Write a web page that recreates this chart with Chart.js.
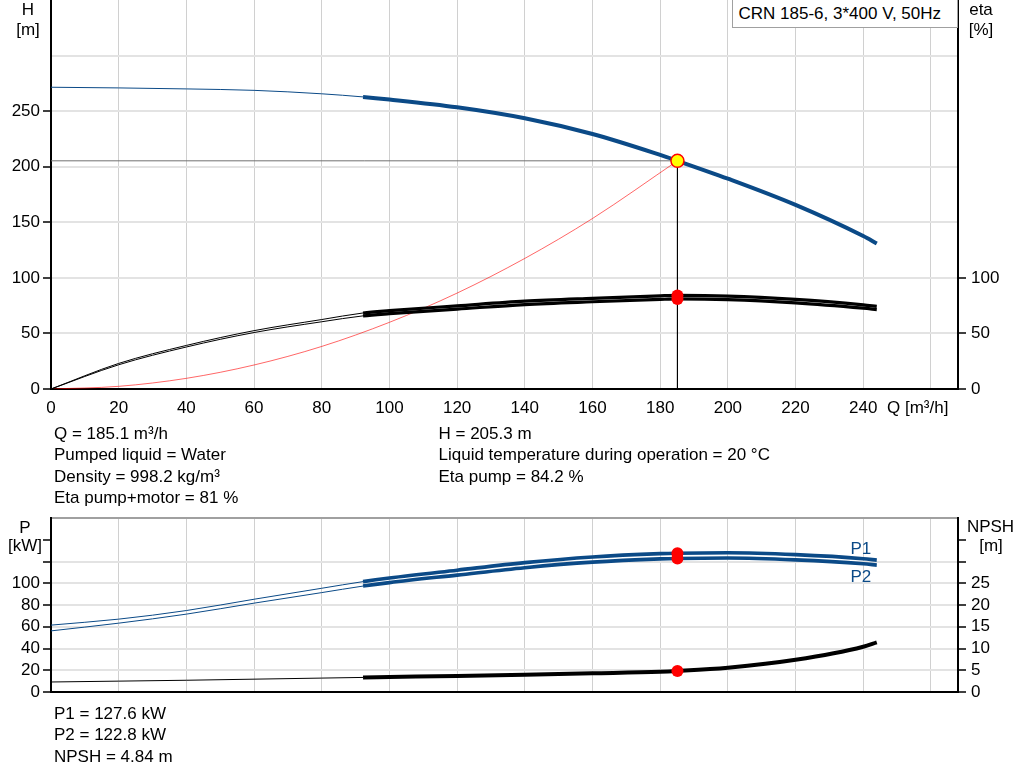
<!DOCTYPE html>
<html>
<head>
<meta charset="utf-8">
<script src="https://cdn.jsdelivr.net/npm/chart.js@4.4.0/dist/chart.umd.min.js"></script>
<style>
html,body{margin:0;padding:0;background:#fff;}
body{width:1024px;height:781px;position:relative;overflow:hidden;font-family:'Liberation Sans',Arial,Helvetica,sans-serif;color:#000;}
canvas{position:absolute;left:0;display:block;}
#c1{top:0;}
#c2{top:505px;}
.t{position:absolute;font-size:17px;line-height:20px;white-space:nowrap;}
.c{text-align:center;}
#legendBox{position:absolute;left:732px;top:-1px;width:226px;height:29px;border:1px solid #a0a0a0;box-sizing:border-box;background:#fff;}
</style>
</head>
<body>
<canvas id="c1" width="1024" height="425"></canvas>
<canvas id="c2" width="1024" height="200"></canvas>

<div id="legendBox"></div>
<div class="t" style="left:738.5px;top:3.5px;">CRN 185-6, 3*400 V, 50Hz</div>

<div class="t c" style="left:8px;width:40px;top:-0.5px;">H</div>
<div class="t c" style="left:8px;width:40px;top:19.5px;">[m]</div>
<div class="t c" style="left:961px;width:40px;top:-0.5px;">eta</div>
<div class="t c" style="left:961px;width:40px;top:19.5px;">[%]</div>
<div class="t" style="left:887px;top:397.7px;">Q [m³/h]</div>

<div class="t" style="left:54px;top:423.5px;">Q = 185.1 m³/h</div>
<div class="t" style="left:54px;top:445px;">Pumped liquid = Water</div>
<div class="t" style="left:54px;top:466.5px;">Density = 998.2 kg/m³</div>
<div class="t" style="left:54px;top:488px;">Eta pump+motor = 81 %</div>
<div class="t" style="left:438.5px;top:423.5px;">H = 205.3 m</div>
<div class="t" style="left:438.5px;top:445px;">Liquid temperature during operation = 20 °C</div>
<div class="t" style="left:438.5px;top:466.5px;">Eta pump = 84.2 %</div>

<div class="t c" style="left:5px;width:40px;top:517.7px;">P</div>
<div class="t c" style="left:0px;width:50px;top:535.5px;">[kW]</div>
<div class="t c" style="left:960px;width:61px;top:517.2px;">NPSH</div>
<div class="t c" style="left:971px;width:40px;top:535.5px;">[m]</div>
<div class="t" style="left:850.5px;top:538.7px;color:#0b4a87;">P1</div>
<div class="t" style="left:850.5px;top:566.7px;color:#0b4a87;">P2</div>

<div class="t" style="left:54px;top:704px;">P1 = 127.6 kW</div>
<div class="t" style="left:54px;top:725.3px;">P2 = 122.8 kW</div>
<div class="t" style="left:54px;top:746.6px;">NPSH = 4.84 m</div>

<script>
// ---------- data ----------
const FLOW      = [0, 20, 40, 60, 80, 92.2, 100, 120, 140, 160, 180, 185.1, 200, 220, 240, 244];
const HEAD      = [271.5, 270.9, 270.0, 268.7, 265.6, 262.8, 260.5, 253.5, 243.6, 229.4, 210.6, 205.3, 189.2, 165.6, 137.6, 131.0];
const ETA_PUMP  = [0, 23.0, 39.2, 52.5, 62.5, 68.4, 70.5, 74.8, 79.0, 81.6, 83.8, 84.2, 83.6, 80.6, 75.7, 74.4];
const ETA_TOTAL = [0, 21.8, 37.8, 50.8, 60.5, 65.8, 67.8, 71.9, 76.0, 78.5, 80.6, 81.0, 80.4, 77.5, 72.7, 71.5];
const P1_KW     = [61.5, 67.0, 74.9, 85.3, 95.4, 101.5, 104.8, 112.0, 119.0, 124.2, 127.2, 127.6, 128.0, 126.3, 122.6, 121.3];
const P2_KW     = [56.2, 63.3, 71.6, 81.7, 91.4, 97.4, 100.6, 107.5, 114.3, 119.4, 122.4, 122.8, 123.2, 121.5, 117.9, 116.7];
const NPSH_M    = [2.3, 2.5, 2.7, 2.95, 3.2, 3.35, 3.45, 3.7, 3.98, 4.3, 4.65, 4.84, 5.6, 7.4, 10.4, 11.4];
const SYS_FLOW  = [0, 20, 40, 60, 80, 100, 120, 140, 160, 185.1];
const SYS_HEAD  = [0, 2.4, 9.6, 21.6, 38.3, 60, 86.3, 117.5, 153.4, 205.3];

const DUTY_Q = 185.1, DUTY_H = 205.3, DUTY_ETA_PUMP = 84.2, DUTY_ETA_TOTAL = 81;
const DUTY_P1 = 127.6, DUTY_P2 = 122.8, DUTY_NPSH = 4.84;

const Q_TICKS = [0, 20, 40, 60, 80, 100, 120, 140, 160, 180, 200, 220, 240, 260];
const Q_LABEL_MAX = 240, Q_MAX = 268;
const H_MAX = 350, H_STEP = 50, H_LABEL_MAX = 250, ETA_LABEL_MAX = 100;
const P_MAX = 160, P_STEP = 20, P_LABEL_MAX = 100, P_GRID_MAX = 120;
const NPSH_MAX = 40, NPSH_STEP = 5, NPSH_LABEL_MAX = 25;
const THICK_FROM = 92.2;

// ---------- style ----------
const BLUE = '#0b4a87';
const RED = '#ff0000';
const GRID_V = '#d0d0d0';
const GRID_H = '#e3e3e3';
const NONE = 'rgba(0,0,0,0)';
const FONT = {family: "'Liberation Sans', Arial, sans-serif", size: 17};

const pts = (xs, ys) => xs.map((x, i) => ({x: x, y: ys[i]}));
const thick = w => ({ borderWidth: c => (c.p0.parsed.x >= THICK_FROM - 1e-6 ? w : 1) });
const curve = (data, axis, color, w, order) => ({
  data: data, yAxisID: axis, borderColor: color, borderWidth: w, segment: thick(w),
  pointRadius: 0, cubicInterpolationMode: 'monotone', fill: false, order: order
});
const dots = (data, axis) => ({
  data: data, yAxisID: axis, showLine: false, pointRadius: 6,
  pointBackgroundColor: RED, pointBorderColor: RED, pointBorderWidth: 0, order: 0
});
const xScale = (height, showLabels) => ({
  type: 'linear', min: 0, max: Q_MAX,
  afterBuildTicks: s => { s.ticks = Q_TICKS.map(v => ({value: v})); },
  ticks: { display: showLabels, autoSkip: false, maxRotation: 0, padding: 9.5, font: FONT, color: '#000',
           callback: v => (v <= Q_LABEL_MAX ? String(v) : '') },
  grid: { color: c => (c.tick && c.tick.value > 0 ? GRID_V : NONE), lineWidth: 1, drawTicks: false },
  border: { color: '#000', width: 2 },
  afterFit: s => { s.height = height; s.paddingLeft = 0; s.paddingRight = 0; }
});
const yScale = (pos, max, step, labelMax, gridMax, tickMax, onArea, topColor) => ({
  type: 'linear', position: pos, min: 0, max: max,
  ticks: { stepSize: step, autoSkip: false, padding: pos === 'left' ? 3 : 5, font: FONT, color: '#000',
           callback: v => (v <= labelMax ? String(v) : '') },
  grid: {
    drawOnChartArea: onArea,
    color: c => {
      const v = c.tick ? c.tick.value : 0;
      if (v === max && topColor) return topColor;
      return (v > 0 && v <= gridMax) ? GRID_H : NONE;
    },
    lineWidth: 2,
    tickColor: c => ((c.tick && c.tick.value <= tickMax) ? '#000' : NONE),
    tickLength: 8, tickWidth: 1.5
  },
  border: { color: '#000', width: 2 },
  afterFit: s => { s.width = pos === 'left' ? 51 : 66; s.paddingTop = 0; s.paddingBottom = 0; }
});
const base = {
  responsive: false, animation: false, events: [],
  plugins: { legend: { display: false }, tooltip: { enabled: false } }
};

// ---------- top chart: H and eta ----------
new Chart(document.getElementById('c1'), {
  type: 'line',
  data: { datasets: [
    { data: [{x: DUTY_Q, y: DUTY_H}], yAxisID: 'y', showLine: false, pointRadius: 6.5,
      pointBackgroundColor: '#ffff00', pointBorderColor: RED, pointBorderWidth: 1.5, order: 0 },
    dots([{x: DUTY_Q, y: DUTY_ETA_PUMP}, {x: DUTY_Q, y: DUTY_ETA_TOTAL}], 'yEta'),
    curve(pts(FLOW, HEAD), 'y', BLUE, 4, 2),
    curve(pts(FLOW, ETA_PUMP), 'yEta', '#000', 3.2, 2),
    curve(pts(FLOW, ETA_TOTAL), 'yEta', '#000', 3.2, 2),
    { data: pts(SYS_FLOW, SYS_HEAD), yAxisID: 'y', borderColor: 'rgba(255,0,0,0.6)', borderWidth: 1,
      pointRadius: 0, cubicInterpolationMode: 'monotone', order: 5 },
    { data: [{x: 0, y: DUTY_H}, {x: DUTY_Q, y: DUTY_H}], yAxisID: 'y', borderColor: '#707070',
      borderWidth: 1, pointRadius: 0, order: 4 },
    { data: [{x: DUTY_Q, y: DUTY_H}, {x: DUTY_Q, y: 0}], yAxisID: 'y', borderColor: '#000',
      borderWidth: 1, pointRadius: 0, order: 3 }
  ]},
  options: Object.assign({}, base, {
    layout: { autoPadding: false, padding: { top: 0, left: 0, right: 0, bottom: 0 } },
    scales: {
      x: xScale(36, true),
      y: yScale('left', H_MAX, H_STEP, H_LABEL_MAX, 300, H_LABEL_MAX, true, null),
      yEta: yScale('right', H_MAX, H_STEP, ETA_LABEL_MAX, 0, ETA_LABEL_MAX, false, null)
    }
  })
});

// ---------- bottom chart: P1, P2 and NPSH ----------
new Chart(document.getElementById('c2'), {
  type: 'line',
  data: { datasets: [
    dots([{x: DUTY_Q, y: DUTY_P1}, {x: DUTY_Q, y: DUTY_P2}], 'y'),
    dots([{x: DUTY_Q, y: DUTY_NPSH}], 'yN'),
    curve(pts(FLOW, P1_KW), 'y', BLUE, 3.6, 2),
    curve(pts(FLOW, P2_KW), 'y', BLUE, 3.6, 2),
    curve(pts(FLOW, NPSH_M), 'yN', '#000', 4, 2)
  ]},
  options: Object.assign({}, base, {
    layout: { autoPadding: false, padding: { top: 13, left: 0, right: 0, bottom: 0 } },
    scales: {
      x: xScale(13, false),
      y: yScale('left', P_MAX, P_STEP, P_LABEL_MAX, P_GRID_MAX, 140, true, '#a0a0a0'),
      yN: yScale('right', NPSH_MAX, NPSH_STEP, NPSH_LABEL_MAX, 0, 35, false, null)
    }
  })
});
</script>
</body>
</html>
